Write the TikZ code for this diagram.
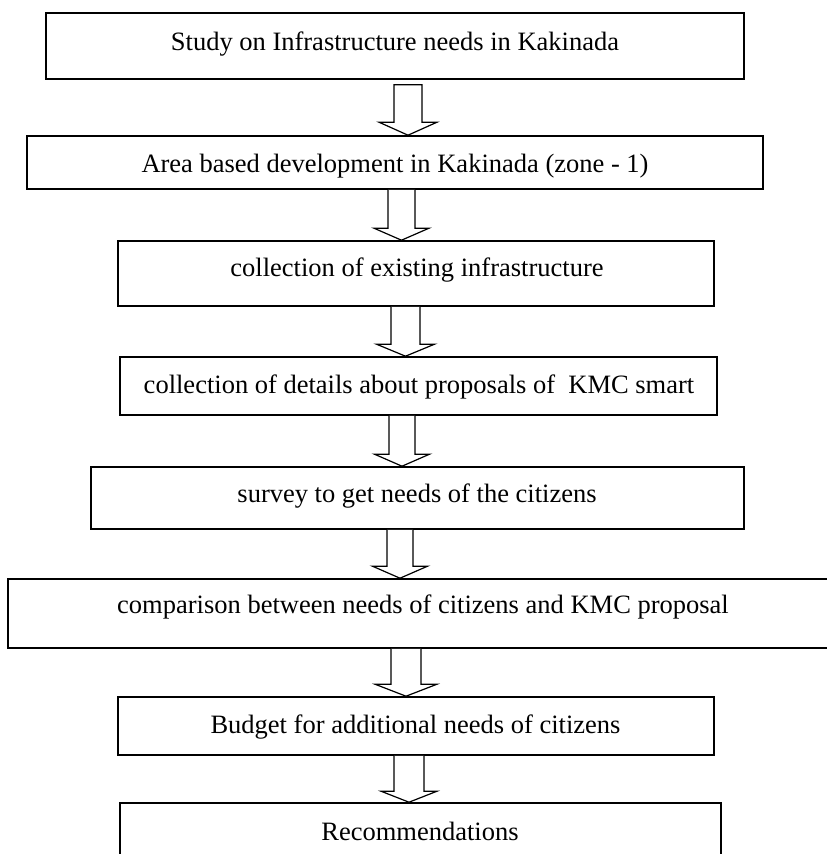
\documentclass[tikz,border=0pt]{standalone}
\usepackage{fontspec}
\setmainfont{Liberation Serif}
\usetikzlibrary{calc}
\tikzset{
  box/.style={draw=black, line width=1.6pt, rectangle, inner sep=0pt},
  txt/.style={anchor=base, inner sep=0pt, font=\fontsize{26.5}{30}\selectfont},
  blk/.style={draw=black, line width=1.2pt, fill=white, line join=miter}
}
\begin{document}
\begin{tikzpicture}[x=1pt,y=-1pt]
\useasboundingbox (0,0) rectangle (827,854);
\clip (0,0) rectangle (827,854);
% boxes
\node[box, minimum width=698pt, minimum height=66pt] (b1) at (395,46) {};
\node[box, minimum width=736pt, minimum height=53pt] (b2) at (395,162.5) {};
\node[box, minimum width=596pt, minimum height=65pt] (b3) at (416,273.5) {};
\node[box, minimum width=597pt, minimum height=58pt] (b4) at (418.5,386) {};
\node[box, minimum width=653pt, minimum height=62pt] (b5) at (417.5,498) {};
\node[box, minimum width=830pt, minimum height=69pt] (b6) at (423,613.5) {};
\node[box, minimum width=596pt, minimum height=58pt] (b7) at (416,726) {};
\node[box, minimum width=601pt, minimum height=57pt] (b8) at (420.5,831.5) {};
% texts
\node[txt] (t1) at (395,50) {Study on Infrastructure needs in Kakinada};
\node[txt] (t2) at (395,172) {Area based development in Kakinada (zone - 1)};
\node[txt] (t3) at (417,276) {collection of existing infrastructure};
\node[txt] (t4) at (419,393) {collection of details about proposals of~ KMC smart};
\node[txt] (t5) at (417,502) {survey to get needs of the citizens};
\node[txt] (t6) at (423,613) {comparison between needs of citizens and KMC proposal};
\node[txt] (t7) at (415.5,733) {Budget for additional needs of citizens};
\node[txt] (t8) at (420,840) {Recommendations};
% arrow columns
\coordinate (c1) at (408,0);
\coordinate (c2) at (401.5,0);
\coordinate (c3) at (405.5,0);
\coordinate (c4) at (402,0);
\coordinate (c5) at (400,0);
\coordinate (c6) at (406,0);
\coordinate (c7) at (409,0);
% block arrows
\draw[blk] let \p1=(c1 |- b1.south), \p2=(c1 |- b2.north) in
  (\x1-14pt,\y1-5pt) -- (\x1-14pt,\y2+13pt) -- (\x1-29pt,\y2+13pt) -- (\x1,\y2)
  -- (\x1+29pt,\y2+13pt) -- (\x1+14pt,\y2+13pt) -- (\x1+14pt,\y1-5pt) -- cycle;
\draw[blk] let \p1=(c2 |- b2.south), \p2=(c2 |- b3.north) in
  (\x1-13.5pt,\y1) -- (\x1-13.5pt,\y2+12pt) -- (\x1-27.5pt,\y2+12pt) -- (\x1,\y2)
  -- (\x1+27.5pt,\y2+12pt) -- (\x1+13.5pt,\y2+12pt) -- (\x1+13.5pt,\y1);
\draw[blk] let \p1=(c3 |- b3.south), \p2=(c3 |- b4.north) in
  (\x1-14.5pt,\y1) -- (\x1-14.5pt,\y2+12pt) -- (\x1-29pt,\y2+12pt) -- (\x1,\y2)
  -- (\x1+29pt,\y2+12pt) -- (\x1+14.5pt,\y2+12pt) -- (\x1+14.5pt,\y1);
\draw[blk] let \p1=(c4 |- b4.south), \p2=(c4 |- b5.north) in
  (\x1-13pt,\y1) -- (\x1-13pt,\y2+12pt) -- (\x1-27.5pt,\y2+12pt) -- (\x1,\y2)
  -- (\x1+27.5pt,\y2+12pt) -- (\x1+13pt,\y2+12pt) -- (\x1+13pt,\y1);
\draw[blk] let \p1=(c5 |- b5.south), \p2=(c5 |- b6.north) in
  (\x1-13pt,\y1) -- (\x1-13pt,\y2+12pt) -- (\x1-27.5pt,\y2+12pt) -- (\x1,\y2)
  -- (\x1+27.5pt,\y2+12pt) -- (\x1+13pt,\y2+12pt) -- (\x1+13pt,\y1);
\draw[blk] let \p1=(c6 |- b6.south), \p2=(c6 |- b7.north) in
  (\x1-15pt,\y1) -- (\x1-15pt,\y2+12pt) -- (\x1-31pt,\y2+12pt) -- (\x1,\y2)
  -- (\x1+31pt,\y2+12pt) -- (\x1+15pt,\y2+12pt) -- (\x1+15pt,\y1);
\draw[blk] let \p1=(c7 |- b7.south), \p2=(c7 |- b8.north) in
  (\x1-15pt,\y1) -- (\x1-15pt,\y2+11pt) -- (\x1-28pt,\y2+11pt) -- (\x1,\y2)
  -- (\x1+28pt,\y2+11pt) -- (\x1+15pt,\y2+11pt) -- (\x1+15pt,\y1);
\end{tikzpicture}
\end{document}
